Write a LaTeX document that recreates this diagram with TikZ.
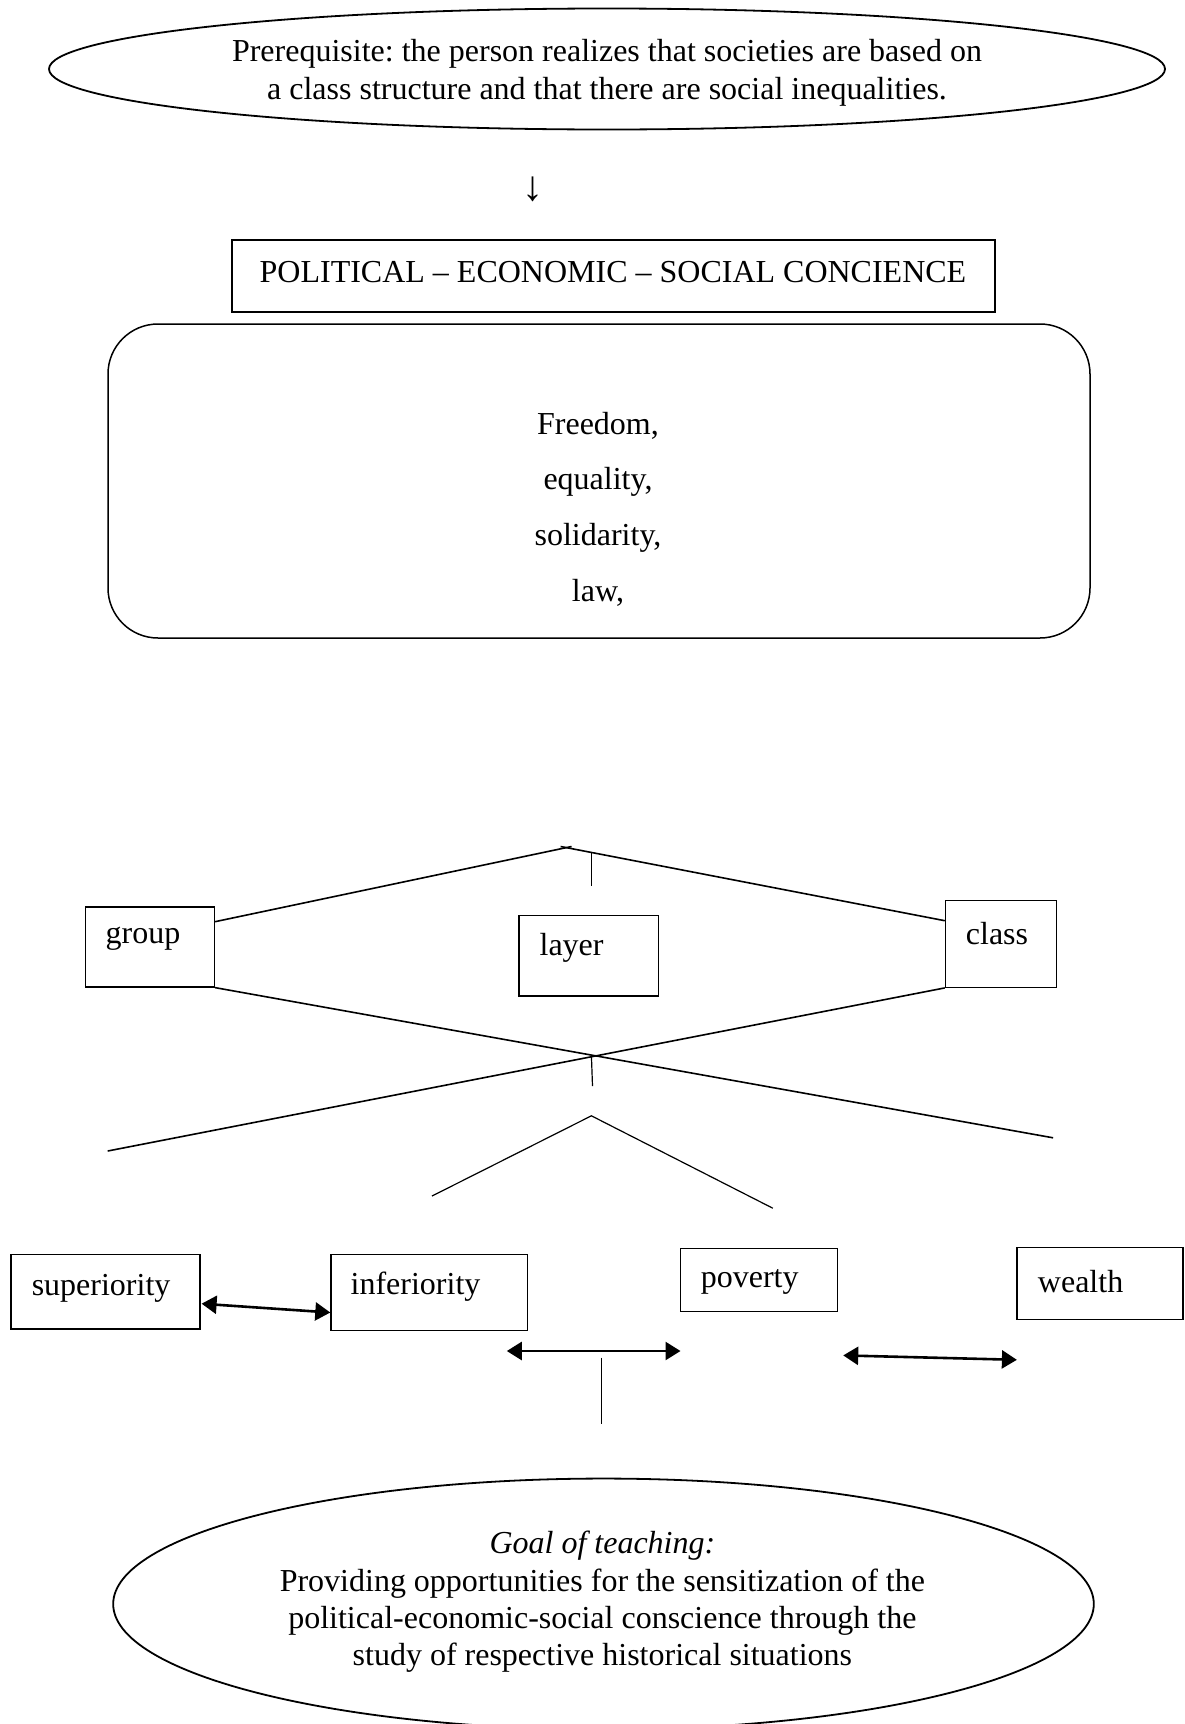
\documentclass[tikz,border=0pt]{standalone}
\usepackage{fontspec}
\setmainfont{Liberation Serif}
\usetikzlibrary{shapes.geometric,arrows.meta,calc}
\begin{document}
\frenchspacing
\begin{tikzpicture}[x=1pt,y=-1pt,
  txt/.style={font=\fontsize{32}{37.4}\selectfont, inner sep=0pt, align=center},
  bx/.style={draw, line width=1.2pt, inner sep=0pt},
  ell/.style={draw, ellipse, line width=1.8pt, inner sep=0pt},
  ln/.style={line width=1.6pt},
  dbl/.style={line width=2.6pt, {Triangle[width=18pt,length=15pt]}-{Triangle[width=18pt,length=15pt]}}
]
\useasboundingbox (0,0) rectangle (1185,1724);
% top ellipse
\node[ell, minimum width=1116pt, minimum height=121pt] (pre) at (607,69) {};
\node[txt] (pret) at (607,73) {Prerequisite: the person realizes that societies are based on\\a class structure and that there are social inequalities.};
\node[txt, font=\fontsize{42}{44}\selectfont] (down) at (533,189) {↓};
% title box
\node[bx, minimum width=763pt, minimum height=72pt] (pol) at (613.5,276) {};
\node[txt] (polt) at (613,272) {POLITICAL – ECONOMIC – SOCIAL CONCIENCE};
% rounded box
\node[bx, line width=1.5pt, rounded corners=50pt, minimum width=982pt, minimum height=314pt] (val) at (599,481) {};
\node[txt] (v1) at (598,426) {Freedom,};
\node[txt] (v2) at (598,482) {equality,};
\node[txt] (v3) at (598,538) {solidarity,};
\node[txt] (v4) at (598,593) {law,};
% middle boxes
\node[bx, minimum width=128.7pt, minimum height=80pt] (group) at (150,947) {};
\node[txt] (groupt) at (143,939) {group};
\node[bx, minimum width=139.6pt, minimum height=80.3pt] (layer) at (588.7,955.9) {};
\node[txt] (layert) at (571.6,948) {layer};
\node[bx, minimum width=111pt, minimum height=87pt] (class) at (1000.9,943.8) {};
\node[txt] (classt) at (997,934) {class};
% free ends
\coordinate (ta) at (571.6,846.5);
\coordinate (tb) at (560.6,846.5);
\coordinate (t1a) at (591.4,852);
\coordinate (t1b) at (591.4,886);
\coordinate (ca) at (1053.1,1137.8);
\coordinate (cb) at (107.7,1151);
\coordinate (t2a) at (591.4,1055.3);
\coordinate (t2b) at (592.5,1086.1);
\coordinate (va) at (432,1196);
\coordinate (vb) at (591.4,1115.8);
\coordinate (vc) at (772.8,1208.2);
\draw[ln] ($(group.north east)+(0,15.3)$) -- (ta);
\draw[ln] (tb) -- ($(class.north west)+(0,21)$);
\draw[line width=1.2pt] (t1a) -- (t1b);
\draw[ln] (group.south east) -- (ca);
\draw[ln] (class.south west) -- (cb);
\draw[line width=1.2pt] (t2a) -- (t2b);
\draw[line width=1.2pt] (va) -- (vb) -- (vc);
% lower boxes
\node[bx, minimum width=189pt, minimum height=74.7pt] (sup) at (105.5,1291.7) {};
\node[txt] (supt) at (101.1,1288) {superiority};
\node[bx, minimum width=196.8pt, minimum height=75.9pt] (inf) at (429.3,1292.2) {};
\node[txt] (inft) at (415.5,1287) {inferiority};
\node[bx, minimum width=157.2pt, minimum height=62.7pt] (pov) at (759.1,1280.1) {};
\node[txt] (povt) at (749.7,1281.5) {poverty};
\node[bx, minimum width=166pt, minimum height=71.5pt] (wea) at (1099.9,1283.4) {};
\node[txt] (weat) at (1080.6,1281.5) {wealth};
% arrows
\draw[dbl] ($(sup.east)+(1,12)$) -- ($(inf.west)+(0,20.3)$);
\coordinate (a2a) at (506.8,1351);
\coordinate (a2b) at (680.5,1351);
\draw[dbl] (a2a) -- (a2b);
\coordinate (a3a) at (843.2,1355.4);
\coordinate (a3b) at (1016.9,1359.8);
\draw[dbl] (a3a) -- (a3b);
\coordinate (vl1) at (601.3,1357.6);
\coordinate (vl2) at (601.3,1423.6);
\draw[line width=1.2pt] (vl1) -- (vl2);
% bottom ellipse
\node[ell, minimum width=980.6pt, minimum height=250.9pt] (goal) at (603.5,1604) {};
\node[txt] (goalt) at (602.4,1602) {\textit{Goal of teaching:}\\Providing opportunities for the sensitization of the\\political-economic-social conscience through the\\study of respective historical situations};
\end{tikzpicture}
\end{document}
